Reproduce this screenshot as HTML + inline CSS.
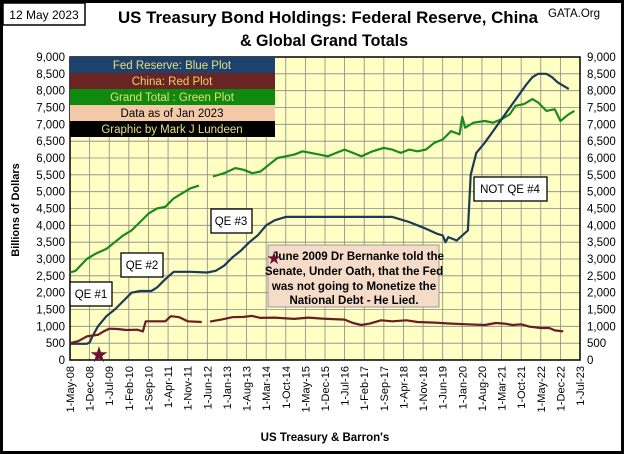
<!DOCTYPE html>
<html><head><meta charset="utf-8"><style>
body{margin:0;background:#fff}
svg{display:block;font-family:"Liberation Sans",sans-serif}
</style></head><body>
<svg id="s" width="624" height="454" viewBox="0 0 624 454" xmlns="http://www.w3.org/2000/svg">
<rect x="1.5" y="1.5" width="621" height="451" fill="#fff" stroke="#000" stroke-width="3"/>
<rect x="3" y="3" width="82" height="22" fill="#fff" stroke="#000" stroke-width="1.5"/>
<text x="44" y="19" font-size="12" text-anchor="middle">12 May 2023</text>
<text x="548" y="17" font-size="12" textLength="52" lengthAdjust="spacingAndGlyphs">GATA.Org</text>
<text x="118" y="23" font-size="17" font-weight="bold" textLength="420" lengthAdjust="spacingAndGlyphs">US Treasury Bond Holdings: Federal Reserve, China</text>
<text x="240" y="46" font-size="17" font-weight="bold" textLength="168" lengthAdjust="spacingAndGlyphs">&amp; Global Grand Totals</text>
<rect x="70" y="57" width="510" height="303" fill="#ffffc4"/>
<g id="grid" stroke="#888" stroke-width="0.8"></g>
<g id="lab" font-size="11.5"></g>
<rect x="70" y="57" width="510" height="303" fill="none" stroke="#000" stroke-width="1.5"/>
<text transform="translate(19,210) rotate(-90)" font-size="11" font-weight="bold" text-anchor="middle">Billions of Dollars</text>
<text x="325" y="441" font-size="11.5" font-weight="bold" text-anchor="middle">US Treasury &amp; Barron's</text>
<g id="ser" fill="none" stroke-width="2.2" stroke-linejoin="round"></g>
<g font-size="11.5" text-anchor="middle">
<rect x="70" y="57" width="205" height="16" fill="#1e426e"/>
<text x="172" y="69" fill="#e6e07a">Fed Reserve: Blue Plot</text>
<rect x="70" y="73" width="205" height="16" fill="#6a2424"/>
<text x="172" y="85" fill="#f0d070">China: Red Plot</text>
<rect x="70" y="89" width="205" height="16" fill="#0f8a0f"/>
<text x="172" y="101" fill="#e6e07a">Grand Total : Green Plot</text>
<rect x="70" y="105" width="205" height="16" fill="#f4c9a8"/>
<text x="172" y="117" fill="#000">Data as of Jan 2023</text>
<rect x="70" y="121" width="205" height="16" fill="#000"/>
<text x="172" y="133" fill="#e6e07a">Graphic by Mark J Lundeen</text>
</g>
<g font-size="11.5" text-anchor="middle">
<rect x="70" y="282" width="42" height="24" fill="#fff" stroke="#000" stroke-width="1.3"/><text x="91" y="298">QE #1</text>
<rect x="121" y="253" width="42" height="24" fill="#fff" stroke="#000" stroke-width="1.3"/><text x="142" y="269">QE #2</text>
<rect x="211" y="209" width="41" height="24" fill="#fff" stroke="#000" stroke-width="1.3"/><text x="231" y="225">QE #3</text>
<rect x="474" y="177" width="73" height="24" fill="#fff" stroke="#000" stroke-width="1.3"/><text x="510" y="193">NOT QE #4</text>
<rect x="268" y="245" width="171" height="62" fill="#f5dcc8" stroke="#999" stroke-width="1"/>
<g font-weight="bold" font-size="11.5"><text x="358" y="260">June 2009 Dr Bernanke told the</text>
<text x="354" y="275">Senate, Under Oath, that the Fed</text>
<text x="354" y="290">was not going to Monetize the</text>
<text x="354" y="304">National Debt - He Lied.</text></g>
<text x="274" y="264" font-size="17" fill="#6a1030">★</text>
<text x="99" y="362" font-size="22" fill="#6a1030">★</text>
</g>
</svg>
<script>
var ns="http://www.w3.org/2000/svg";
function X(m){return 70+m*510/182}
function Y(v){return 360-v*303/9000}
function el(p,t,a,tx){var e=document.createElementNS(ns,t);for(var k in a)e.setAttribute(k,a[k]);if(tx)e.textContent=tx;document.getElementById(p).appendChild(e);return e}
for(var i=1;i<18;i++){var y=57+i*303/18;el("grid","line",{x1:70,x2:580,y1:y,y2:y})}
for(var i=1;i<26;i++){var x=70+i*510/26;el("grid","line",{x1:x,x2:x,y1:57,y2:360})}
for(var i=0;i<=18;i++){var v=i*500,y=Y(v)+4,s=v.toLocaleString("en-US");
el("lab","text",{x:65,y:y,"text-anchor":"end"},s);el("lab","text",{x:587,y:y},s)}
var mo=["Jan","Feb","Mar","Apr","May","Jun","Jul","Aug","Sep","Oct","Nov","Dec"];
for(var i=0;i<27;i++){var tm=4+i*7+2008*12,yr=Math.floor(tm/12),mn=tm%12;var x=70+i*510/26+4;
el("lab","text",{transform:"translate("+x+",366) rotate(-90)","text-anchor":"end","font-size":"11"},"1-"+mo[mn]+"-"+String(yr).slice(2))}
function line(pts,c){var d="";pts.forEach(function(p,i){d+=(i?"L":"M")+X(p[0]).toFixed(1)+","+Y(p[1]).toFixed(1)});el("ser","path",{d:d,stroke:c})}
line([[0,2600],[2,2650],[6,3000],[9,3150],[13,3300],[16,3500],[19,3700],[22,3850],[25,4100],[28,4350],[31,4500],[34,4550],[37,4800],[40,4950],[43,5100],[46,5180]],"#1a8a1a");
line([[51,5450],[55,5550],[59,5700],[62,5650],[65,5550],[68,5600],[71,5800],[74,6000],[77,6050],[80,6100],[83,6200],[86,6150],[89,6100],[92,6050],[95,6150],[98,6250],[101,6150],[104,6050],[108,6200],[112,6300],[115,6250],[118,6150],[121,6250],[124,6200],[127,6250],[130,6450],[133,6550],[136,6800],[139,6700],[140,7220],[141,6900],[144,7050],[148,7100],[151,7050],[154,7150],[157,7300],[159,7550],[162,7600],[165,7750],[167,7650],[170,7400],[173,7450],[175,7100],[178,7300],[180,7400]],"#1a8a1a");
line([[0,480],[6,480],[7,520],[8,700],[10,1000],[13,1300],[16,1500],[19,1750],[22,2000],[25,2050],[29,2050],[31,2150],[34,2400],[37,2620],[40,2620],[43,2620],[49,2600],[52,2650],[55,2800],[58,3050],[61,3250],[64,3500],[67,3700],[70,4000],[73,4150],[77,4250],[85,4250],[95,4250],[105,4250],[115,4250],[121,4100],[127,3900],[131,3750],[133,3700],[134,3500],[135,3650],[138,3550],[140,3700],[142,3850],[143,5500],[145,6150],[148,6450],[151,6800],[154,7150],[157,7500],[160,7850],[163,8200],[165,8400],[167,8500],[170,8500],[172,8400],[174,8250],[177,8100],[178,8050]],"#1b3a55");
line([[0,500],[3,560],[6,700],[10,750],[12,850],[14,930],[17,920],[20,890],[24,900],[26,850],[27,1150],[30,1150],[34,1150],[36,1300],[39,1270],[42,1150],[47,1130]],"#6a1c24");
line([[50,1140],[54,1200],[58,1270],[62,1280],[65,1310],[68,1250],[73,1260],[80,1220],[85,1260],[90,1230],[98,1200],[101,1100],[104,1040],[107,1080],[111,1180],[115,1150],[120,1180],[124,1130],[130,1110],[136,1080],[142,1060],[148,1040],[152,1100],[155,1080],[158,1040],[161,1060],[164,990],[168,950],[171,950],[173,880],[176,850]],"#6a1c24");
</script>
</body></html>
